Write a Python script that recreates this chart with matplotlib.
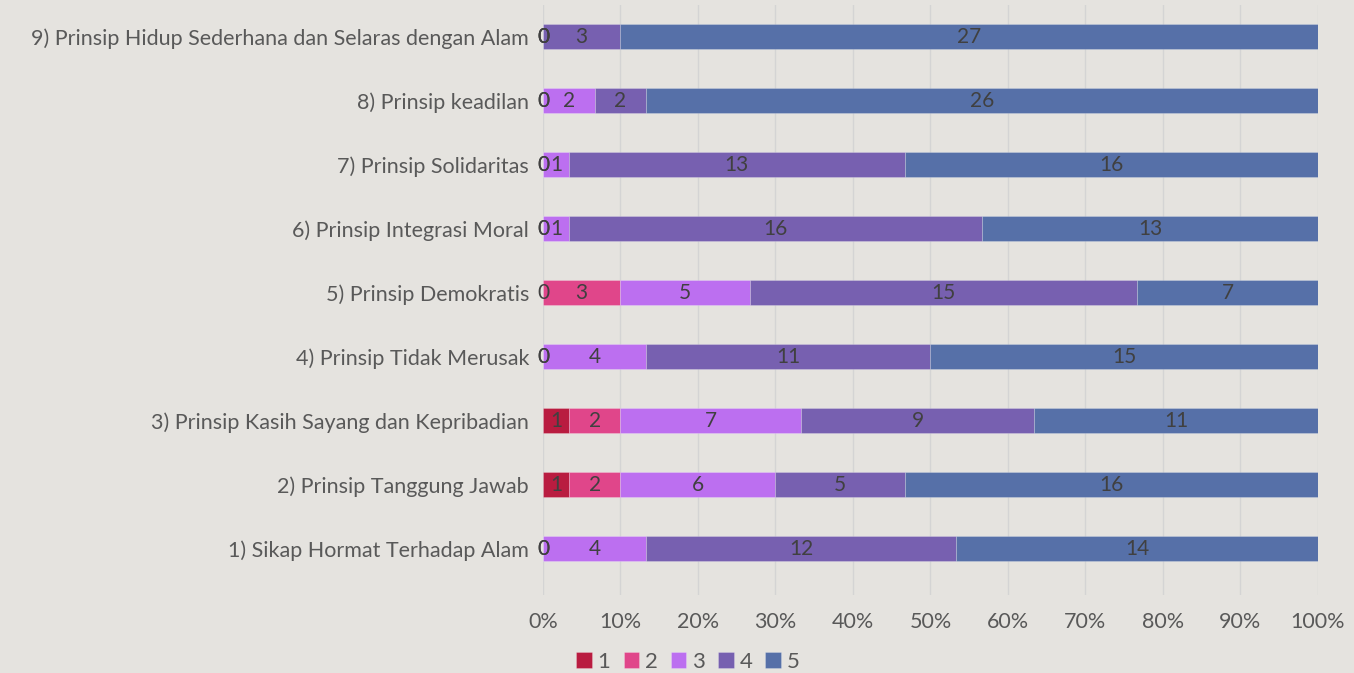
import numpy as np
import matplotlib.pyplot as plt

categories = [
    "1) Sikap Hormat Terhadap Alam",
    "2) Prinsip Tanggung Jawab",
    "3) Prinsip Kasih Sayang dan Kepribadian",
    "4) Prinsip Tidak Merusak",
    "5) Prinsip Demokratis",
    "6) Prinsip Integrasi Moral",
    "7) Prinsip Solidaritas",
    "8) Prinsip keadilan",
    "9) Prinsip Hidup Sederhana dan Selaras dengan Alam",
]
series_names = ["1", "2", "3", "4", "5"]
s1 = [0, 1, 1, 0, 0, 0, 0, 0, 0]
s2 = [0, 2, 2, 0, 3, 0, 0, 0, 0]
s3 = [4, 6, 7, 4, 5, 1, 1, 2, 0]
s4 = [12, 5, 9, 11, 15, 16, 13, 2, 3]
s5 = [14, 16, 11, 15, 7, 13, 16, 26, 27]
colors = ["#B91C40", "#E0468A", "#BC6FF0", "#7760B0", "#5670A8"]

bg = "#E5E3DF"
plt.rcParams['font.family'] = ['Lato', 'DejaVu Sans']

fig = plt.figure(figsize=(13.54, 6.73), dpi=100, facecolor=bg)
ax = fig.add_axes([0.401, 0.116, 0.5724, 0.8766], facecolor=bg)

data = np.array([s1, s2, s3, s4, s5], dtype=float)
totals = data.sum(axis=0)
pct = data / totals * 100
y = np.arange(len(categories))
left = np.zeros(len(categories))
handles = []
for i in range(len(series_names)):
    h = ax.barh(y, pct[i], left=left, height=0.39, color=colors[i],
                label=series_names[i], edgecolor="#FFFFFF40", linewidth=0.6, zorder=3)
    handles.append(h)
    for j in range(len(categories)):
        ax.text(left[j] + pct[i][j] / 2, y[j], str(int(data[i][j])),
                ha="center", va="center", fontsize=15, color="#404040", zorder=4)
    left += pct[i]

ax.set_xlim(0, 100)
ax.set_ylim(-0.72, 8.5)
ax.set_xticks(np.arange(0, 101, 10))
ax.set_xticklabels([f"{v}%" for v in range(0, 101, 10)])
ax.set_yticks(y)
ax.set_yticklabels(categories)
ax.tick_params(axis="both", length=0, labelsize=15.5, colors="#595959")
ax.tick_params(axis="y", pad=10)
ax.tick_params(axis="x", pad=12)
ax.grid(axis="x", color="#D4D4D4", linewidth=1, zorder=0)
for s in ax.spines.values():
    s.set_visible(False)

fig.legend(handles=handles, loc="center", bbox_to_anchor=(0.508, 1 - 662 / 673), ncol=5,
           frameon=False, fontsize=16, labelcolor="#595959", handlelength=0.7,
           handleheight=0.7, handletextpad=0.25, columnspacing=0.6)

fig.savefig("out.png", dpi=100, facecolor=bg)
